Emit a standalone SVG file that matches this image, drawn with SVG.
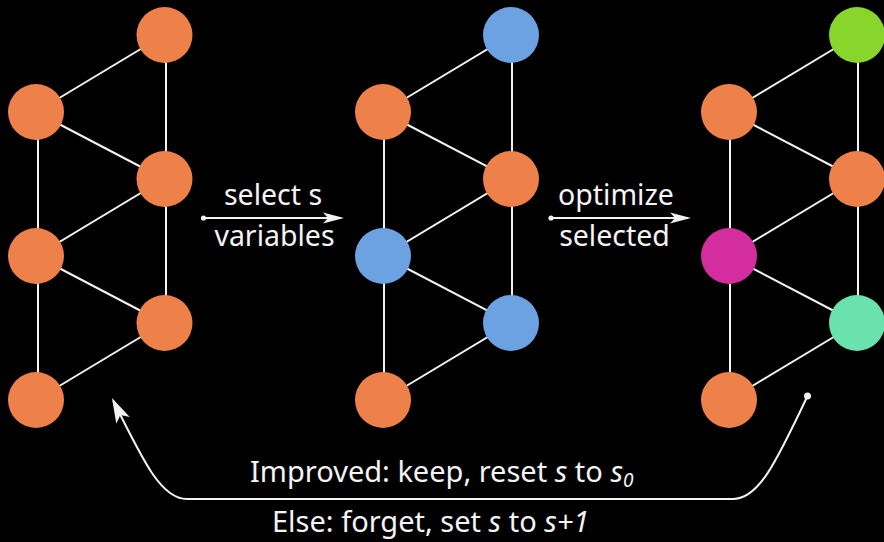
<svg xmlns="http://www.w3.org/2000/svg" width="884" height="542" viewBox="0 0 884 542">
  <style>
    .edge { stroke: #f2f2f2; stroke-width: 2; fill: none; }
    .node { stroke: none; }
    .orange { fill: #ee8049; }
    .blue { fill: #6ca1e2; }
    .green { fill: #88d52c; }
    .magenta { fill: #d42d9f; }
    .mint { fill: #69e2ae; }
    .conn { stroke: #f2f2f2; stroke-width: 2; fill: none; }
    .dot { fill: #f2f2f2; }
    .lbl { font-family: "Noto Sans", "Open Sans", sans-serif; fill: #f4f4f4; }
    .top { font-size: 28.5px; text-anchor: middle; }
    .bot { font-size: 29px; }
    .it { font-style: italic; }
  </style>
  <defs>
    <marker id="arrow" markerUnits="userSpaceOnUse" markerWidth="22" markerHeight="12" refX="18" refY="5.5" orient="auto" overflow="visible">
      <path d="M0,0 L21,5.5 L0,11 L5,5.5 Z" fill="#f2f2f2"/>
    </marker>
    <marker id="arrowBig" markerUnits="userSpaceOnUse" markerWidth="26" markerHeight="16" refX="22" refY="7.5" orient="auto" overflow="visible">
      <path d="M0,0 L25,7.5 L0,15 L6,7.5 Z" fill="#f2f2f2"/>
    </marker>
  </defs>

  <rect x="0" y="0" width="884" height="542" fill="#000"/>

  <!-- graph edges -->
  <g id="edges">
    <!-- left graph -->
    <line class="edge" x1="164" y1="35" x2="36" y2="112"/>
    <line class="edge" x1="166" y1="35" x2="166" y2="179"/>
    <line class="edge" x1="36" y1="112" x2="164" y2="179"/>
    <line class="edge" x1="38" y1="112" x2="38" y2="256"/>
    <line class="edge" x1="164" y1="179" x2="36" y2="256"/>
    <line class="edge" x1="166" y1="179" x2="166" y2="323"/>
    <line class="edge" x1="36" y1="256" x2="164" y2="323"/>
    <line class="edge" x1="38" y1="256" x2="38" y2="400"/>
    <line class="edge" x1="164" y1="323" x2="36" y2="400"/>
    <!-- middle graph -->
    <line class="edge" x1="511" y1="35" x2="383" y2="112"/>
    <line class="edge" x1="512" y1="35" x2="512" y2="179"/>
    <line class="edge" x1="383" y1="112" x2="511" y2="179"/>
    <line class="edge" x1="384" y1="112" x2="384" y2="256"/>
    <line class="edge" x1="511" y1="179" x2="383" y2="256"/>
    <line class="edge" x1="512" y1="179" x2="512" y2="323"/>
    <line class="edge" x1="383" y1="256" x2="511" y2="323"/>
    <line class="edge" x1="384" y1="256" x2="384" y2="400"/>
    <line class="edge" x1="511" y1="323" x2="383" y2="400"/>
    <!-- right graph -->
    <line class="edge" x1="857" y1="35" x2="729" y2="112"/>
    <line class="edge" x1="858" y1="35" x2="858" y2="179"/>
    <line class="edge" x1="729" y1="112" x2="857" y2="179"/>
    <line class="edge" x1="730" y1="112" x2="730" y2="256"/>
    <line class="edge" x1="857" y1="179" x2="729" y2="256"/>
    <line class="edge" x1="858" y1="179" x2="858" y2="323"/>
    <line class="edge" x1="729" y1="256" x2="857" y2="323"/>
    <line class="edge" x1="730" y1="256" x2="730" y2="400"/>
    <line class="edge" x1="857" y1="323" x2="729" y2="400"/>
  </g>

  <!-- left graph nodes -->
  <g id="g1-a"><circle class="node orange" cx="164.5" cy="35" r="28"/></g>
  <g id="g1-b"><circle class="node orange" cx="36" cy="112" r="28"/></g>
  <g id="g1-c"><circle class="node orange" cx="164.5" cy="179" r="28"/></g>
  <g id="g1-d"><circle class="node orange" cx="36" cy="256" r="28"/></g>
  <g id="g1-e"><circle class="node orange" cx="164.5" cy="323" r="28"/></g>
  <g id="g1-f"><circle class="node orange" cx="36" cy="400" r="28"/></g>

  <!-- middle graph nodes -->
  <g id="g2-a"><circle class="node blue" cx="511" cy="35" r="28"/></g>
  <g id="g2-b"><circle class="node orange" cx="383" cy="112" r="28"/></g>
  <g id="g2-c"><circle class="node orange" cx="511" cy="179" r="28"/></g>
  <g id="g2-d"><circle class="node blue" cx="383" cy="256" r="28"/></g>
  <g id="g2-e"><circle class="node blue" cx="511" cy="323" r="28"/></g>
  <g id="g2-f"><circle class="node orange" cx="383" cy="400" r="28"/></g>

  <!-- right graph nodes -->
  <g id="g3-a"><circle class="node green" cx="857" cy="35" r="28"/></g>
  <g id="g3-b"><circle class="node orange" cx="729" cy="112" r="28"/></g>
  <g id="g3-c"><circle class="node orange" cx="857" cy="179" r="28"/></g>
  <g id="g3-d"><circle class="node magenta" cx="729" cy="256" r="28"/></g>
  <g id="g3-e"><circle class="node mint" cx="857" cy="323" r="28"/></g>
  <g id="g3-f"><circle class="node orange" cx="729" cy="400" r="28"/></g>

  <!-- step connectors -->
  <g id="connectors">
    <circle class="dot" cx="203.5" cy="218" r="2.6"/>
    <line class="conn" x1="203.5" y1="218" x2="341" y2="218" marker-end="url(#arrow)"/>
    <circle class="dot" cx="551" cy="218" r="2.6"/>
    <line class="conn" x1="551" y1="218" x2="688" y2="218" marker-end="url(#arrow)"/>
    <circle class="dot" cx="807.5" cy="396" r="3.5"/>
    <path class="conn" d="M807.5,396 C775,465 758,499 733,499 L187,499 C162,499 145,465 113.3,400.7" marker-end="url(#arrowBig)"/>
  </g>

  <!-- labels -->
  <g id="labels">
    <text class="lbl top" x="273" y="205">select s</text>
    <text class="lbl top" x="274.5" y="246">variables</text>
    <text class="lbl top" x="616" y="205">optimize</text>
    <text class="lbl top" x="614.5" y="246">selected</text>
    <text class="lbl bot" x="250" y="482">Improved: keep, reset <tspan class="it">s</tspan> to <tspan class="it">s</tspan><tspan class="it" font-size="19" dy="5">0</tspan></text>
    <text class="lbl bot" x="272" y="532">Else: forget, set <tspan class="it">s</tspan> to <tspan class="it">s+1</tspan></text>
  </g>
</svg>
